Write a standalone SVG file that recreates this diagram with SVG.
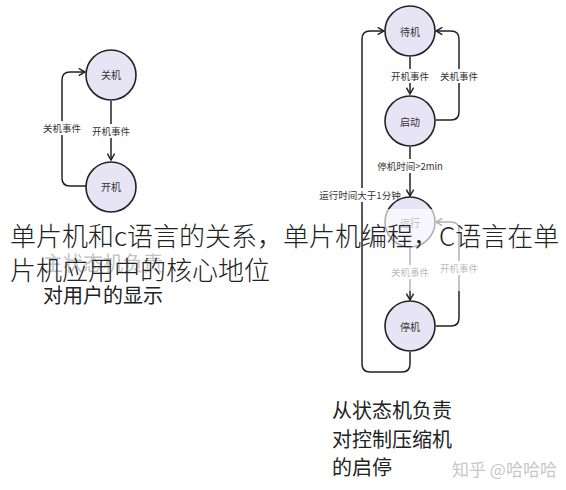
<svg xmlns="http://www.w3.org/2000/svg" width="566" height="490" viewBox="0 0 566 490">
<defs>
<style>
.node circle{fill:#e7e4f6;stroke:#222;stroke-width:1.6}
.node text{font-family:"Noto Sans CJK SC","Noto Sans",sans-serif;font-size:10px;fill:#333;text-anchor:middle;dominant-baseline:central}
.conn path{fill:none;stroke:#222;stroke-width:1.5;marker-end:url(#arr)}
.lbl rect{fill:#fff}
.lbl text{font-family:"Noto Sans CJK SC","Noto Sans",sans-serif;font-size:9.5px;fill:#333;text-anchor:middle;dominant-baseline:central}
.big{font-family:"Noto Sans CJK SC","Noto Sans",sans-serif;font-size:20px;fill:#222}
.title{font-family:"Noto Sans CJK SC","Noto Sans",sans-serif;font-size:26px;fill:#222;font-weight:300}
</style>
<marker id="arr" viewBox="0 0 10 10" refX="9" refY="5" markerWidth="9" markerHeight="9" markerUnits="userSpaceOnUse" orient="auto">
<path d="M2,1 L9,5 L2,9" fill="none" stroke="#222" stroke-width="1.6"/>
</marker>
</defs>
<rect width="566" height="490" fill="#fff"/>

<g id="connectors" class="conn">
<path d="M111 101 V160"/>
<path d="M86 186 H70 Q62 186 62 178 V80 Q62 72 70 72 H85"/>
<path d="M410 57 V94"/>
<path d="M436 120 H451 Q459 120 459 112 V39 Q459 31 451 31 H436"/>
<path d="M410 147 V196"/>
<path d="M410 248 V300"/>
<path d="M436 326 H451 Q459 326 459 318 V230 Q459 222 451 222 H436"/>
<path d="M410 352 V364 Q410 372 402 372 H370 Q362 372 362 364 V39 Q362 31 370 31 H384"/>
</g>

<g id="labels" class="lbl">
<rect x="91" y="124" width="40" height="14"/><text x="111" y="131">开机事件</text>
<rect x="42" y="121" width="40" height="14"/><text x="62" y="128">关机事件</text>
<rect x="390" y="69" width="40" height="14"/><text x="410" y="76">开机事件</text>
<rect x="439" y="69" width="40" height="14"/><text x="459" y="76">关机事件</text>
<rect x="376" y="159" width="68" height="14"/><text x="410" y="166">停机时间&gt;2min</text>
<rect x="320" y="188" width="80" height="14"/><text x="360" y="195">运行时间大于1分钟</text>
<rect x="390" y="265" width="40" height="14"/><text x="410" y="272">关机事件</text>
<rect x="439" y="261" width="40" height="14"/><text x="459" y="268">开机事件</text>
</g>

<g id="n-guanji" class="node"><circle cx="111" cy="75" r="25"/><text x="111" y="74">关机</text></g>
<g id="n-kaiji" class="node"><circle cx="111" cy="187" r="25"/><text x="111" y="186">开机</text></g>
<g id="n-daiji" class="node"><circle cx="410" cy="31" r="25"/><text x="410" y="31">待机</text></g>
<g id="n-qidong" class="node"><circle cx="410" cy="121" r="25"/><text x="410" y="121">启动</text></g>
<g id="n-yunxing" class="node"><circle cx="410" cy="222" r="25"/><text x="410" y="222">运行</text></g>
<g id="n-tingji" class="node"><circle cx="410" cy="326" r="25"/><text x="410" y="326">停机</text></g>

<rect x="372" y="209" width="115" height="82" fill="#fff" opacity="0.65"/>

<text class="big" x="43" y="271" fill="#bbb" style="fill:#c4c4c4">主状态机负责</text>
<text class="big" x="43" y="303">对用户的显示</text>

<text class="big" x="332" y="418">从状态机负责</text>
<text class="big" x="332" y="447">对控制压缩机</text>
<text class="big" x="332" y="475">的启停</text>

<text x="452" y="476" style="font-family:'Noto Sans CJK SC','Noto Sans',sans-serif;font-size:17px;fill:#c8c8c8">知乎 @哈哈哈</text>

<text class="title" x="10" y="246">单片机和c语言的关系，单片机编程，C语言在单</text>
<text class="title" x="10" y="280">片机应用中的核心地位</text>
</svg>
